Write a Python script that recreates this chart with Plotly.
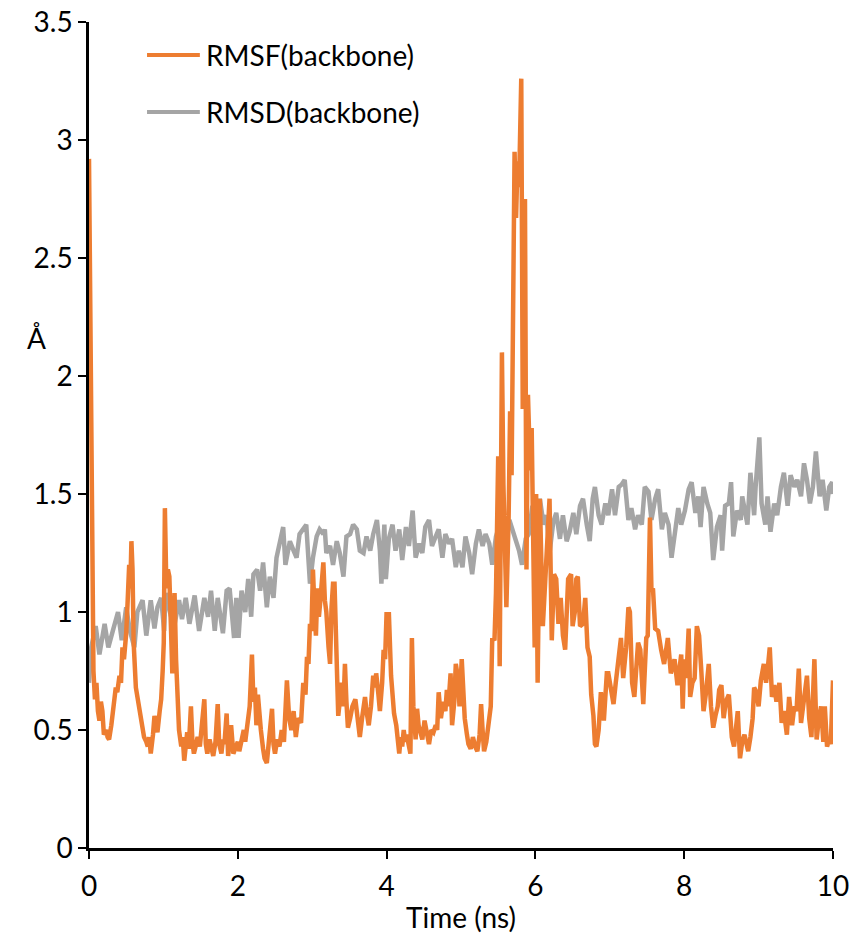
import plotly.graph_objects as go

# RMSF(backbone) — time (ns) and value (Å)
rmsf_t = [0.000, 0.010, 0.020, 0.030, 0.040, 0.060, 0.080, 0.100, 0.120, 0.140, 0.160, 0.180, 0.200, 0.230, 0.250, 0.270,
          0.300, 0.320, 0.340, 0.360, 0.380, 0.410, 0.430, 0.450, 0.470, 0.500, 0.520, 0.540, 0.555, 0.570, 0.585, 0.600,
          0.630, 0.660, 0.680, 0.710, 0.740, 0.770, 0.790, 0.810, 0.830, 0.860, 0.880, 0.900, 0.920, 0.950, 0.970, 0.990,
          1.005, 1.020, 1.040, 1.060, 1.080, 1.100, 1.120, 1.135, 1.150, 1.170, 1.190, 1.210, 1.240, 1.260, 1.280, 1.300,
          1.320, 1.340, 1.370, 1.390, 1.410, 1.440, 1.460, 1.490, 1.510, 1.550, 1.570, 1.590, 1.620, 1.640, 1.670, 1.700,
          1.730, 1.750, 1.780, 1.800, 1.820, 1.850, 1.870, 1.890, 1.910, 1.940, 1.970, 2.000, 2.020, 2.050, 2.080, 2.100,
          2.130, 2.160, 2.190, 2.210, 2.230, 2.250, 2.270, 2.290, 2.310, 2.340, 2.360, 2.390, 2.420, 2.460, 2.480, 2.500,
          2.530, 2.560, 2.590, 2.620, 2.660, 2.690, 2.720, 2.750, 2.780, 2.810, 2.850, 2.880, 2.910, 2.930, 2.950, 2.970,
          2.990, 3.010, 3.030, 3.050, 3.070, 3.090, 3.110, 3.130, 3.150, 3.170, 3.190, 3.220, 3.240, 3.260, 3.280, 3.300,
          3.320, 3.350, 3.370, 3.390, 3.420, 3.440, 3.460, 3.480, 3.510, 3.540, 3.580, 3.610, 3.640, 3.670, 3.710, 3.730,
          3.760, 3.790, 3.820, 3.840, 3.860, 3.890, 3.910, 3.940, 3.960, 3.980, 4.000, 4.020, 4.030, 4.060, 4.080, 4.100,
          4.130, 4.150, 4.170, 4.190, 4.210, 4.230, 4.250, 4.270, 4.300, 4.320, 4.340, 4.360, 4.390, 4.410, 4.430, 4.450,
          4.480, 4.510, 4.540, 4.570, 4.600, 4.630, 4.660, 4.680, 4.700, 4.730, 4.760, 4.790, 4.810, 4.830, 4.860, 4.880,
          4.910, 4.930, 4.960, 4.980, 5.010, 5.030, 5.050, 5.080, 5.100, 5.130, 5.160, 5.190, 5.220, 5.250, 5.270, 5.290,
          5.310, 5.340, 5.360, 5.380, 5.400, 5.420, 5.450, 5.470, 5.500, 5.520, 5.550, 5.570, 5.600, 5.610, 5.640, 5.660,
          5.680, 5.700, 5.720, 5.740, 5.760, 5.780, 5.810, 5.830, 5.860, 5.880, 5.900, 5.930, 5.950, 5.990, 6.010, 6.030,
          6.060, 6.100, 6.150, 6.190, 6.220, 6.250, 6.280, 6.310, 6.340, 6.370, 6.400, 6.440, 6.480, 6.500, 6.530, 6.550,
          6.570, 6.600, 6.640, 6.670, 6.700, 6.730, 6.750, 6.780, 6.800, 6.820, 6.850, 6.880, 6.920, 6.960, 6.980, 7.020,
          7.050, 7.080, 7.110, 7.150, 7.180, 7.220, 7.250, 7.270, 7.300, 7.330, 7.380, 7.410, 7.450, 7.490, 7.510, 7.540,
          7.560, 7.580, 7.610, 7.650, 7.690, 7.730, 7.780, 7.820, 7.870, 7.910, 7.960, 7.980, 8.000, 8.030, 8.060, 8.080,
          8.110, 8.140, 8.170, 8.200, 8.230, 8.260, 8.290, 8.330, 8.360, 8.390, 8.420, 8.450, 8.470, 8.500, 8.530, 8.560,
          8.600, 8.640, 8.670, 8.700, 8.720, 8.750, 8.780, 8.810, 8.840, 8.860, 8.890, 8.920, 8.940, 8.970, 9.000, 9.030,
          9.070, 9.100, 9.120, 9.150, 9.180, 9.210, 9.240, 9.280, 9.310, 9.340, 9.380, 9.410, 9.450, 9.480, 9.510, 9.540,
          9.570, 9.600, 9.650, 9.680, 9.710, 9.750, 9.780, 9.810, 9.840, 9.870, 9.890, 9.920, 9.950, 9.970, 10.000]
rmsf_v = [2.92, 2.60, 1.80, 1.78, 1.20, 0.75, 0.63, 0.70, 0.58, 0.54, 0.62, 0.58, 0.48, 0.50, 0.47, 0.46,
          0.52, 0.58, 0.62, 0.68, 0.66, 0.73, 0.70, 0.85, 0.80, 0.91, 1.05, 1.20, 1.10, 1.30, 1.18, 0.87,
          0.68, 0.62, 0.58, 0.50, 0.47, 0.45, 0.43, 0.47, 0.40, 0.48, 0.56, 0.52, 0.49, 0.58, 0.63, 0.75,
          0.87, 1.44, 1.10, 1.18, 1.15, 0.95, 0.74, 0.90, 1.08, 0.80, 0.57, 0.50, 0.43, 0.47, 0.37, 0.45,
          0.49, 0.42, 0.60, 0.45, 0.40, 0.44, 0.47, 0.43, 0.50, 0.63, 0.44, 0.40, 0.46, 0.43, 0.39, 0.45,
          0.61, 0.44, 0.40, 0.46, 0.44, 0.57, 0.39, 0.45, 0.52, 0.40, 0.42, 0.45, 0.41, 0.47, 0.50, 0.45,
          0.52, 0.60, 0.82, 0.62, 0.68, 0.52, 0.65, 0.56, 0.50, 0.42, 0.38, 0.36, 0.48, 0.59, 0.44, 0.40,
          0.46, 0.43, 0.50, 0.45, 0.71, 0.55, 0.50, 0.58, 0.47, 0.55, 0.53, 0.70, 0.65, 0.81, 0.78, 0.95,
          0.92, 1.18, 1.02, 0.90, 1.10, 0.98, 1.05, 1.12, 1.21, 1.05, 1.00, 0.85, 0.78, 1.02, 1.12, 1.12,
          0.80, 0.56, 0.62, 0.70, 0.60, 0.78, 0.62, 0.51, 0.55, 0.60, 0.63, 0.55, 0.47, 0.55, 0.64, 0.58,
          0.52, 0.60, 0.73, 0.68, 0.74, 0.65, 0.58, 0.70, 0.84, 0.80, 1.00, 0.86, 1.00, 0.73, 0.65, 0.57,
          0.52, 0.46, 0.40, 0.47, 0.43, 0.50, 0.45, 0.48, 0.44, 0.40, 0.89, 0.60, 0.46, 0.59, 0.52, 0.50,
          0.46, 0.54, 0.48, 0.44, 0.50, 0.49, 0.52, 0.50, 0.66, 0.55, 0.62, 0.58, 0.67, 0.60, 0.74, 0.52,
          0.62, 0.78, 0.72, 0.60, 0.80, 0.65, 0.55, 0.48, 0.44, 0.42, 0.47, 0.43, 0.41, 0.48, 0.61, 0.50,
          0.41, 0.45, 0.50, 0.52, 0.60, 0.89, 0.88, 1.08, 1.66, 0.77, 2.10, 1.54, 1.10, 1.02, 1.40, 1.85,
          1.58, 2.53, 2.95, 2.67, 2.91, 2.80, 3.26, 1.86, 2.75, 1.18, 1.92, 1.60, 1.78, 0.85, 1.50, 0.70,
          1.48, 0.94, 1.20, 1.48, 0.88, 1.16, 1.14, 0.95, 1.06, 0.90, 0.84, 1.14, 1.16, 0.94, 1.00, 1.14,
          1.15, 0.94, 0.95, 1.06, 0.85, 0.81, 0.65, 0.56, 0.44, 0.43, 0.50, 0.66, 0.54, 0.74, 0.74, 0.66,
          0.61, 0.70, 0.77, 0.89, 0.72, 0.85, 1.02, 1.00, 0.70, 0.64, 0.87, 0.84, 0.61, 0.89, 0.90, 1.40,
          1.09, 1.10, 0.93, 0.92, 0.84, 0.78, 0.89, 0.74, 0.80, 0.69, 0.82, 0.59, 0.80, 0.72, 0.93, 0.64,
          0.70, 0.72, 0.94, 0.90, 0.75, 0.58, 0.65, 0.78, 0.60, 0.51, 0.56, 0.60, 0.67, 0.69, 0.55, 0.62,
          0.65, 0.47, 0.43, 0.50, 0.58, 0.38, 0.45, 0.48, 0.44, 0.41, 0.47, 0.55, 0.68, 0.66, 0.60, 0.71,
          0.78, 0.70, 0.75, 0.85, 0.64, 0.69, 0.62, 0.70, 0.53, 0.58, 0.48, 0.64, 0.52, 0.60, 0.58, 0.76,
          0.53, 0.62, 0.73, 0.55, 0.47, 0.80, 0.46, 0.55, 0.60, 0.45, 0.60, 0.43, 0.46, 0.44, 0.71]

# RMSD(backbone) — time (ns) and value (Å)
rmsd_t = [0.000, 0.030, 0.090, 0.140, 0.210, 0.260, 0.320, 0.390, 0.440, 0.500, 0.550, 0.610, 0.650, 0.720, 0.770,
          0.830, 0.880, 0.920, 0.970, 1.010, 1.030, 1.100, 1.140, 1.210, 1.250, 1.300, 1.350, 1.420, 1.480, 1.550,
          1.600, 1.640, 1.690, 1.730, 1.800, 1.850, 1.890, 1.950, 1.980, 2.010, 2.050, 2.100, 2.140, 2.180, 2.210,
          2.260, 2.300, 2.340, 2.390, 2.430, 2.480, 2.520, 2.570, 2.610, 2.640, 2.700, 2.750, 2.790, 2.830, 2.880,
          2.920, 2.970, 3.010, 3.060, 3.100, 3.150, 3.170, 3.190, 3.240, 3.280, 3.330, 3.370, 3.420, 3.460, 3.510,
          3.550, 3.600, 3.640, 3.690, 3.730, 3.780, 3.820, 3.870, 3.910, 3.930, 3.970, 3.990, 4.030, 4.080, 4.120,
          4.170, 4.210, 4.260, 4.300, 4.350, 4.390, 4.440, 4.480, 4.520, 4.570, 4.610, 4.660, 4.700, 4.750, 4.790,
          4.840, 4.880, 4.930, 4.970, 5.020, 5.060, 5.110, 5.150, 5.200, 5.240, 5.290, 5.330, 5.380, 5.420, 5.470,
          5.510, 5.560, 5.600, 5.650, 5.690, 5.740, 5.780, 5.820, 5.870, 5.910, 5.960, 5.990, 6.020, 6.060, 6.110,
          6.150, 6.190, 6.240, 6.280, 6.330, 6.370, 6.420, 6.460, 6.510, 6.550, 6.600, 6.640, 6.690, 6.730, 6.770,
          6.800, 6.850, 6.890, 6.940, 6.980, 7.030, 7.070, 7.120, 7.160, 7.200, 7.250, 7.290, 7.340, 7.380, 7.430,
          7.470, 7.520, 7.560, 7.610, 7.650, 7.700, 7.740, 7.790, 7.830, 7.880, 7.920, 7.960, 8.010, 8.060, 8.100,
          8.150, 8.190, 8.220, 8.260, 8.310, 8.350, 8.390, 8.440, 8.490, 8.510, 8.550, 8.600, 8.630, 8.660, 8.710,
          8.760, 8.780, 8.820, 8.850, 8.890, 8.940, 8.960, 9.010, 9.040, 9.090, 9.120, 9.160, 9.210, 9.250, 9.300,
          9.340, 9.390, 9.430, 9.480, 9.520, 9.570, 9.610, 9.650, 9.690, 9.730, 9.770, 9.820, 9.860, 9.910, 9.950,
          9.990, 10.000]
rmsd_v = [0.70, 0.85, 0.94, 0.82, 0.95, 0.85, 0.92, 1.00, 0.88, 1.02, 0.92, 0.85, 1.00, 1.05, 0.90,
          1.05, 0.93, 1.02, 1.06, 0.92, 1.08, 0.98, 0.93, 1.05, 0.97, 1.06, 0.95, 1.07, 0.92, 1.06,
          0.98, 1.09, 0.92, 1.06, 0.91, 1.09, 1.10, 0.89, 1.06, 0.89, 1.09, 1.00, 1.14, 0.98, 1.16,
          1.18, 1.09, 1.21, 1.02, 1.15, 1.06, 1.23, 1.30, 1.36, 1.20, 1.30, 1.26, 1.23, 1.33, 1.35,
          1.37, 1.12, 1.23, 1.32, 1.35, 1.33, 1.35, 1.25, 1.28, 1.20, 1.30, 1.25, 1.15, 1.32, 1.33,
          1.37, 1.35, 1.26, 1.25, 1.32, 1.26, 1.33, 1.39, 1.26, 1.12, 1.37, 1.14, 1.31, 1.37, 1.26,
          1.35, 1.22, 1.36, 1.28, 1.43, 1.23, 1.29, 1.25, 1.36, 1.39, 1.28, 1.32, 1.35, 1.23, 1.33,
          1.29, 1.31, 1.19, 1.26, 1.19, 1.32, 1.25, 1.16, 1.29, 1.35, 1.28, 1.33, 1.29, 1.20, 1.32,
          1.36, 1.43, 1.31, 1.39, 1.35, 1.31, 1.26, 1.20, 1.31, 1.33, 1.45, 1.32, 1.31, 1.48, 1.37,
          1.41, 1.25, 1.38, 1.42, 1.31, 1.41, 1.30, 1.34, 1.42, 1.33, 1.45, 1.48, 1.37, 1.30, 1.48,
          1.53, 1.41, 1.37, 1.46, 1.41, 1.52, 1.41, 1.53, 1.54, 1.56, 1.39, 1.44, 1.35, 1.41, 1.37,
          1.53, 1.51, 1.39, 1.48, 1.52, 1.35, 1.42, 1.37, 1.23, 1.34, 1.44, 1.37, 1.43, 1.52, 1.55,
          1.42, 1.49, 1.36, 1.53, 1.46, 1.42, 1.22, 1.36, 1.41, 1.26, 1.45, 1.46, 1.55, 1.32, 1.43,
          1.39, 1.49, 1.43, 1.37, 1.59, 1.41, 1.53, 1.74, 1.46, 1.37, 1.49, 1.34, 1.46, 1.41, 1.53,
          1.59, 1.45, 1.58, 1.53, 1.56, 1.49, 1.63, 1.56, 1.46, 1.53, 1.68, 1.49, 1.56, 1.43, 1.53,
          1.55, 1.50]

series_names = ["RMSF(backbone)", "RMSD(backbone)"]
series_colors = ["#ED7D31", "#A5A5A5"]
x_ticks = [0, 2, 4, 6, 8, 10]
y_ticks = [0, 0.5, 1, 1.5, 2, 2.5, 3, 3.5]
y_tick_text = ["0", "0.5", "1", "1.5", "2", "2.5", "3", "3.5"]

FONT = "Lato, 'Open Sans', sans-serif"
FS = 28

fig = go.Figure()
fig.add_trace(go.Scatter(x=rmsd_t, y=rmsd_v, mode="lines", name=series_names[1],
                         line=dict(color=series_colors[1], width=4.5), showlegend=False))
fig.add_trace(go.Scatter(x=rmsf_t, y=rmsf_v, mode="lines", name=series_names[0],
                         line=dict(color=series_colors[0], width=4.5), showlegend=False))

# hand-placed legend (line sample + label), matching the reference layout
# plot area spans x 89..833 px and y 22..848 px of the 854x936 page
legend_y = [0.960, 0.891]
shapes = []
annotations = []
for name, color, ly in zip(series_names, series_colors, legend_y):
    shapes.append(dict(type="line", xref="paper", yref="paper", x0=0.078, x1=0.149, y0=ly, y1=ly,
                       line=dict(color=color, width=4)))
    annotations.append(dict(text=name, xref="paper", yref="paper", x=0.154, y=ly, xanchor="left",
                            yanchor="middle", showarrow=False, font=dict(size=FS)))
annotations.append(dict(text="Å", xref="paper", yref="paper", x=-0.070, y=0.617,
                        showarrow=False, font=dict(size=FS), xanchor="center", yanchor="middle"))

fig.update_layout(
    width=854, height=936,
    margin=dict(l=89, r=21, t=22, b=88, autoexpand=False),
    paper_bgcolor="white", plot_bgcolor="white",
    font=dict(family=FONT, size=FS, color="black"),
    showlegend=False,
    xaxis=dict(range=[0, 10], tickvals=x_ticks, showgrid=False, zeroline=False,
               showline=True, linecolor="black", linewidth=2.5, ticks="outside",
               ticklen=8, tickwidth=2, tickcolor="black", ticklabeloverflow="allow",
               ticklabelstandoff=4,
               title=dict(text="Time (ns)", font=dict(size=FS), standoff=8)),
    yaxis=dict(range=[0, 3.5], tickvals=y_ticks, ticktext=y_tick_text, showgrid=False, zeroline=False,
               showline=True, linecolor="black", linewidth=2.5, ticks="outside",
               ticklen=8, tickwidth=2, tickcolor="black", ticklabeloverflow="allow"),
    shapes=shapes,
    annotations=annotations,
)

# remove the default page margin so the 854x936 figure fills the window exactly
fig.write_html("out.html", config={"displayModeBar": False},
               post_script="document.body.style.margin='0';document.body.style.overflow='hidden';")
